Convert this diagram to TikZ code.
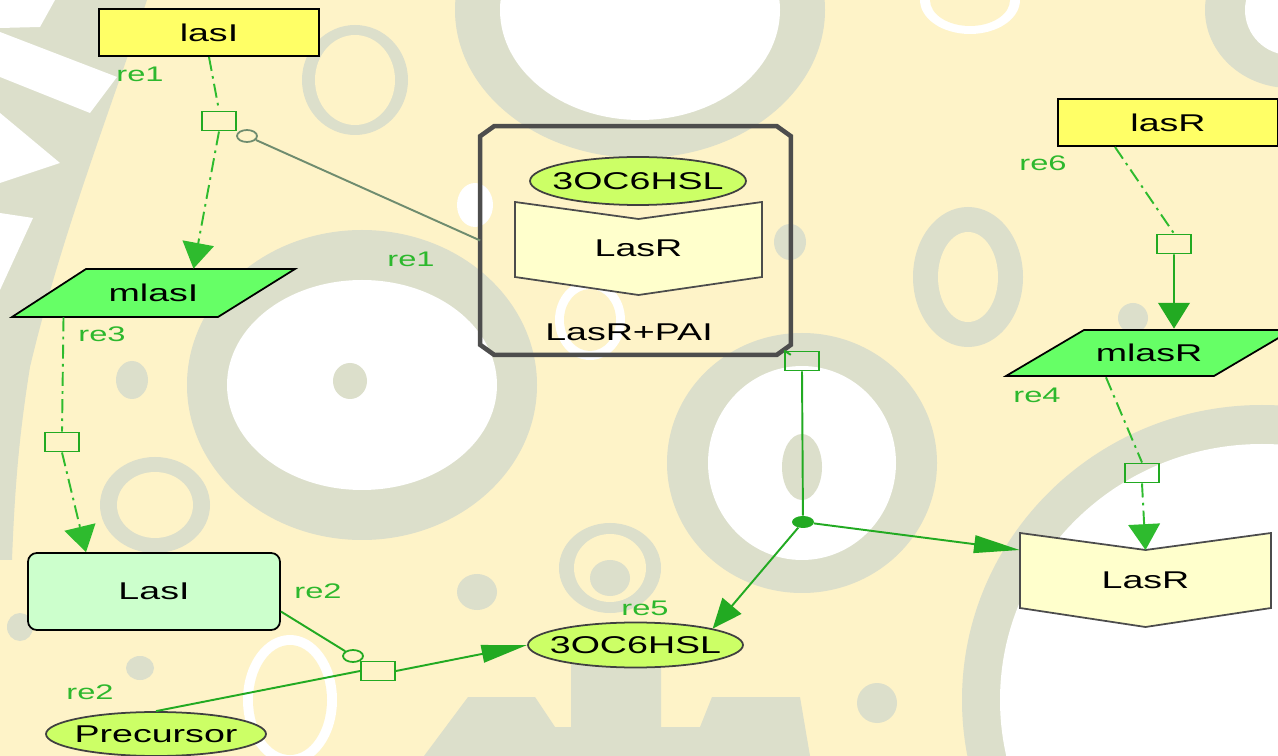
\documentclass[tikz,border=0pt]{standalone}
\usepackage{fontspec}
\setmainfont{Liberation Sans}[FakeStretch=1.55]
\usetikzlibrary{arrows.meta, positioning, calc, backgrounds, shapes.geometric}

\definecolor{cream}{HTML}{FEF3C8}
\definecolor{gearGrey}{HTML}{DCDFCB}
\definecolor{geneYellow}{HTML}{FFFF66}
\definecolor{rnaGreen}{HTML}{66FF66}
\definecolor{protGreen}{HTML}{CCFFCC}
\definecolor{molGreen}{HTML}{CCFF66}
\definecolor{recYellow}{HTML}{FFFFCC}
\definecolor{cplxGrey}{HTML}{4D4D4D}
\definecolor{lineGreen}{HTML}{22AA22}
\definecolor{transGreen}{HTML}{2EBB2E}
\definecolor{labelGreen}{HTML}{2DB82D}
\definecolor{modGrey}{HTML}{6F8C6F}

\begin{document}
\begin{tikzpicture}[
  x=0.02cm, y=-0.02cm,
  every node/.style = {inner sep=0pt, font=\fontsize{13.8}{16}\selectfont},
  gene/.style = {rectangle, draw=black, fill=geneYellow, line width=1.2pt,
    minimum width=4.4cm, minimum height=0.94cm},
  rna/.style = {rectangle, minimum width=5.66cm, minimum height=0.96cm},
  rnaline/.style = {draw=black, fill=rnaGreen, line width=1pt},
  protein/.style = {rectangle, rounded corners=5pt, draw=black, fill=protGreen,
    line width=1pt, minimum width=5.04cm, minimum height=1.54cm},
  receptor/.style = {minimum width=5.02cm},
  recline/.style = {draw=black!70, fill=recYellow, line width=1pt},
  molecule/.style = {ellipse, draw=black!75, fill=molGreen, line width=1pt,
    inner xsep=-8pt, minimum width=4.3cm, minimum height=0.9cm},
  complex/.style = {rectangle, minimum width=6.2cm, minimum height=4.56cm},
  cplxline/.style = {draw=cplxGrey, line width=2.6pt},
  process/.style = {rectangle, draw=lineGreen, line width=1.1pt,
    minimum width=0.68cm, minimum height=0.38cm},
  modifier/.style = {ellipse, line width=1pt, minimum width=0.4cm, minimum height=0.24cm},
  junction/.style = {ellipse, fill=lineGreen, minimum width=0.44cm, minimum height=0.24cm},
  relabel/.style = {text=labelGreen, font=\fontsize{12}{14}\selectfont},
  reline/.style = {draw=lineGreen, line width=1.1pt},
  transline/.style = {draw=transGreen, line width=1.1pt, dash pattern=on 8pt off 3pt on 1.5pt off 3pt},
  modline/.style = {draw=modGrey, line width=1.1pt},
  arrow/.style = {-{Triangle[length=14.7pt, width=18pt]}},
  flatarrow/.style = {-{Triangle[length=26pt, width=10pt]}},
  slantarrow/.style = {-{Triangle[length=17pt, width=14pt]}}
]
\useasboundingbox (0,0) rectangle (1278,756);

% === BACKGROUND (gears) ===
\begin{scope}[on background layer]
  \fill[cream] (0,0) rectangle (1278,756);
  % left teeth
  \fill[gearGrey] (0,0) -- (147,0) .. controls (110,110) and (60,240) .. (30,367)
    .. controls (20,430) and (15,480) .. (12,560) -- (0,560) -- cycle;
  \fill[white] (0,0) -- (55,0) -- (40,27) -- (0,28) -- cycle;
  \fill[white] (0,32) -- (117,77) -- (90,113) -- (0,77) -- cycle;
  \fill[white] (0,113) -- (60,163) -- (0,183) -- cycle;
  \fill[white] (0,213) -- (33,218) -- (0,290) -- cycle;
  % top hub
  \fill[gearGrey] (640,10) ellipse [x radius=185, y radius=148];
  \fill[white] (640,10) ellipse [x radius=140, y radius=110];
  \fill[gearGrey] (355,80) ellipse [x radius=53, y radius=55];
  \fill[cream] (355,80) ellipse [x radius=40, y radius=45];
  \fill[white] (970,0) ellipse [x radius=50, y radius=34];
  \fill[cream] (970,0) ellipse [x radius=40, y radius=26];
  \fill[gearGrey] (1290,10) ellipse [x radius=85, y radius=78];
  \fill[white] (1290,10) ellipse [x radius=45, y radius=45];
  % big left wheel
  \fill[gearGrey] (362,385) ellipse [x radius=175, y radius=155];
  \fill[white] (362,385) ellipse [x radius=135, y radius=105];
  \fill[gearGrey] (350,381) ellipse [x radius=17, y radius=18];
  \fill[white] (475,205) ellipse [x radius=18, y radius=22];
  \fill[gearGrey] (790,242) ellipse [x radius=16, y radius=18];
  \fill[white] (590,320) ellipse [x radius=35, y radius=40];
  \fill[cream] (590,320) ellipse [x radius=26, y radius=31];
  % right rings
  \fill[gearGrey] (968,277) ellipse [x radius=55, y radius=70];
  \fill[cream] (968,277) ellipse [x radius=30, y radius=45];
  \fill[gearGrey] (1133,318) ellipse [x radius=15, y radius=15];
  \fill[gearGrey] (802,463) ellipse [x radius=135, y radius=130];
  \fill[white] (802,463) ellipse [x radius=94, y radius=97];
  \fill[gearGrey] (802,467) ellipse [x radius=20, y radius=33];
  \fill[gearGrey] (1262,700) ellipse [x radius=300, y radius=295];
  \fill[white] (1262,700) ellipse [x radius=262, y radius=256];
  % small rings and dots
  \fill[gearGrey] (155,505) ellipse [x radius=55, y radius=48];
  \fill[cream] (155,505) ellipse [x radius=38, y radius=33];
  \fill[gearGrey] (132,380) ellipse [x radius=16, y radius=19];
  \fill[gearGrey] (20,627) ellipse [x radius=13, y radius=14];
  \fill[gearGrey] (140,668) ellipse [x radius=14, y radius=12];
  \fill[white] (290,700) ellipse [x radius=47, y radius=65];
  \fill[cream] (290,700) ellipse [x radius=37, y radius=55];
  \fill[gearGrey] (610,568) ellipse [x radius=51, y radius=45];
  \fill[cream] (610,568) ellipse [x radius=36, y radius=34];
  \fill[gearGrey] (610,578) ellipse [x radius=20, y radius=18];
  \fill[gearGrey] (477,592) ellipse [x radius=20, y radius=18];
  \fill[gearGrey] (877,703) ellipse [x radius=20, y radius=20];
  % bottom gear
  \fill[gearGrey] (424,756) -- (468,697) -- (535,697) -- (555,727) -- (571,727)
    -- (571,640) -- (661,640) -- (661,727) -- (700,727) -- (712,697)
    -- (800,697) -- (810,756) -- cycle;
\end{scope}

% Genes (top)
\node[gene] (lasI) at (209,32.5) {lasI};
\node[gene] (lasR) at (1168,122.5) {lasR};

% Transcripts
\node[rna] (mlasI) at (153.5,293) {mlasI};
\node[rna] (mlasR) at (1149,353) {mlasR};

% Proteins
\node[protein] (LasI) at (154,591.5) {LasI};
\node[receptor] (LasR) at (1145.5,580) {LasR};

% Small molecules
\node[molecule, minimum width=4.4cm, minimum height=0.88cm] (prec) at (156,734) {Precursor};
\node[molecule] (HSL) at (635.5,645) {3OC6HSL};

% Complex LasR+PAI
\node[complex] (cplx) at (635.5,240.5) {};
\draw[cplxline] ($(cplx.north west)+(14,0)$) -- ($(cplx.north east)+(-14,0)$)
  -- ($(cplx.north east)+(0,10)$) -- ($(cplx.south east)+(0,-10)$)
  -- ($(cplx.south east)+(-14,0)$) -- ($(cplx.south west)+(14,0)$)
  -- ($(cplx.south west)+(0,-10)$) -- ($(cplx.north west)+(0,10)$) -- cycle;
\node[molecule, minimum width=4.32cm, minimum height=0.96cm] (cplxHSL) at (638,181) {3OC6HSL};
\node[receptor, minimum width=4.94cm] (cplxLasR) at (638.5,248) {LasR};
\node (cplxName) at (629,332) {LasR+PAI};

% parallelogram and receptor outlines
\begin{scope}[on background layer]
  \draw[rnaline] ($(mlasI)+(-67.5,-24)$) -- ($(mlasI)+(141.5,-24)$)
    -- ($(mlasI)+(64.5,24)$) -- ($(mlasI)+(-141.5,24)$) -- cycle;
  \draw[rnaline] ($(mlasR)+(-65,-23)$) -- ($(mlasR)+(143,-23)$)
    -- ($(mlasR)+(65,23)$) -- ($(mlasR)+(-143,23)$) -- cycle;
  \draw[recline] ($(cplxLasR)+(-123.5,-46)$) -- ($(cplxLasR)+(0,-29)$) -- ($(cplxLasR)+(123.5,-46)$)
    -- ($(cplxLasR)+(123.5,29)$) -- ($(cplxLasR)+(0,47)$) -- ($(cplxLasR)+(-123.5,29)$) -- cycle;
  \draw[recline] ($(LasR)+(-125.5,-47)$) -- ($(LasR)+(0,-30)$) -- ($(LasR)+(125.5,-47)$)
    -- ($(LasR)+(125.5,28)$) -- ($(LasR)+(0,47)$) -- ($(LasR)+(-125.5,28)$) -- cycle;
\end{scope}
\coordinate (LasRnotch) at ($(LasR)+(0,-30)$);

% Process nodes
\node[process] (re1p) at (219,121) {};
\node[process] (re3p) at (62,442) {};
\node[process] (re2p) at (378,671) {};
\node[process] (re5p) at (802,361) {};
\node[process] (re6p) at (1174,244) {};
\node[process] (re4p) at (1142,473) {};
\node[modifier, draw=modGrey] (re1m) at (247,136) {};
\node[modifier, draw=lineGreen] (re2m) at (353,656) {};
\node[junction] (re5j) at (803,522) {};

% Reaction labels
\node[relabel] (re1a) at (140,74) {re1};
\node[relabel] (re1b) at (411,259) {re1};
\node[relabel] (re3a) at (102,334) {re3};
\node[relabel] (re2a) at (318,591) {re2};
\node[relabel] (re2b) at (90,692) {re2};
\node[relabel] (re5a) at (645,608) {re5};
\node[relabel] (re6a) at (1043,163) {re6};
\node[relabel] (re4a) at (1037,395) {re4};

% === ARROWS ===

% re1: lasI -> mlasI, modulated by the complex
\draw[transline] (lasI.south) -- (re1p.north);
\draw[transline, arrow] (re1p.south) -- ([xshift=0.8cm]mlasI.north);
\draw[modline] (re1m) -- (cplx.west);

% re3: mlasI -> LasI
\draw[transline] ([xshift=-1.8cm]mlasI.south) -- (re3p.north);
\draw[transline, arrow] (re3p.south) -- ([xshift=-1.36cm]LasI.north);

% re2: Precursor -> 3OC6HSL, catalysed by LasI
\draw[reline] ([yshift=-0.4cm]LasI.east) -- (re2m);
\draw[reline] (prec.north) -- (re2p.west);
\draw[reline, flatarrow] (re2p.east) -- (HSL.west);

% re5: dissociation of the complex
\draw[reline] (cplx.south east) -- (re5p.north west);
\draw[reline] (re5p.south) -- (re5j);
\draw[reline, slantarrow] (re5j) -- (HSL.12);
\draw[reline, flatarrow] (re5j) -- ([yshift=0.6cm]LasR.west);

% re6: lasR -> mlasR
\draw[transline] ([xshift=-1.06cm]lasR.south) -- (re6p.north);
\draw[reline, arrow] (re6p.south) -- ([xshift=0.5cm]mlasR.north);

% re4: mlasR -> LasR
\draw[transline] ([xshift=-0.86cm]mlasR.south) -- (re4p.north);
\draw[transline, arrow] (re4p.south) -- (LasRnotch);

\end{tikzpicture}
\end{document}
